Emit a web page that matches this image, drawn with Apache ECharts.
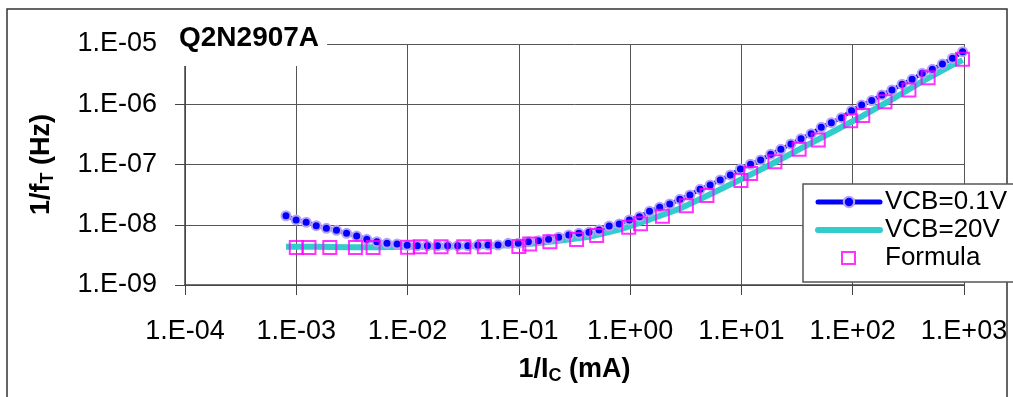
<!DOCTYPE html>
<html>
<head>
<meta charset="utf-8">
<script src="https://cdn.jsdelivr.net/npm/echarts@6/dist/echarts.min.js"></script>
<style>
  html, body { margin: 0; padding: 0; background: #fff; }
  #echarts { width: 1013px; height: 397px; }
</style>
</head>
<body>
<div id="echarts"></div>
<script>
// 1/Ic (mA) sweep of the VCB=0.1V curve
var ics = [8.08e-4, 9.96e-4, 1.227e-3, 1.512e-3, 1.864e-3, 2.297e-3, 2.831e-3, 3.489e-3, 4.30e-3, 5.30e-3,
  6.53e-3, 8.05e-3, 9.92e-3, 1.223e-2, 1.507e-2, 1.857e-2, 2.289e-2, 2.820e-2, 3.475e-2, 4.28e-2,
  5.28e-2, 6.50e-2, 8.02e-2, 9.88e-2, 0.1218, 0.1501, 0.1849, 0.2279, 0.2809, 0.3461,
  0.4266, 0.5257, 0.648, 0.798, 0.984, 1.213, 1.494, 1.842, 2.270, 2.797,
  3.447, 4.248, 5.236, 6.452, 7.952, 9.80, 12.08, 14.88, 18.34, 22.61,
  27.86, 34.33, 42.31, 52.14, 64.27, 79.20, 97.6, 120.3, 148.3, 182.7,
  225.2, 277.5, 342.0, 421.4, 519.4, 640.0, 788.9, 972];
var vcb01 = [1.41e-8, 1.20e-8, 1.10e-8, 9.64e-9, 8.73e-9, 8.09e-9, 7.21e-9, 6.50e-9, 5.74e-9, 5.24e-9,
  4.92e-9, 4.79e-9, 4.55e-9, 4.5e-9, 4.5e-9, 4.5e-9, 4.5e-9, 4.5e-9, 4.5e-9, 4.55e-9,
  4.61e-9, 4.61e-9, 4.92e-9, 4.92e-9, 5.24e-9, 5.44e-9, 5.74e-9, 6.20e-9, 6.76e-9, 7.21e-9,
  7.50e-9, 8.18e-9, 9.53e-9, 1.03e-8, 1.20e-8, 1.36e-8, 1.67e-8, 1.95e-8, 2.21e-8, 2.64e-8,
  3.12e-8, 3.88e-8, 4.57e-8, 5.53e-8, 6.70e-8, 8.42e-8, 1.01e-7, 1.19e-7, 1.48e-7, 1.79e-7,
  2.19e-7, 2.68e-7, 3.24e-7, 4.14e-7, 4.94e-7, 5.98e-7, 7.82e-7, 9.7e-7, 1.15e-6, 1.43e-6,
  1.73e-6, 2.14e-6, 2.59e-6, 3.26e-6, 3.80e-6, 4.66e-6, 5.80e-6, 7.45e-6];

// VCB=20V curve
var ics20 = [8.08e-4, 1.512e-3, 2.831e-3, 5.30e-3, 9.92e-3, 1.857e-2, 3.475e-2, 6.50e-2, 0.1218, 0.2279,
  0.4266, 0.798, 1.494, 2.797, 5.236, 9.80, 18.34, 34.33, 64.27, 120.3, 225.2, 421.4, 788.9, 972];
var vcb20 = [4.3e-9, 4.3e-9, 4.25e-9, 4.25e-9, 4.3e-9, 4.3e-9, 4.4e-9, 4.5e-9, 4.8e-9, 5.4e-9,
  6.3e-9, 8.3e-9, 1.22e-8, 1.85e-8, 3.2e-8, 5.6e-8, 1.0e-7, 1.85e-7, 3.4e-7, 6.3e-7, 1.2e-6, 2.4e-6, 4.5e-6, 5.4e-6];

// Formula
var icsF = [1.0e-3, 1.3e-3, 2.0e-3, 3.4e-3, 4.9e-3, 1.0e-2, 1.3e-2, 2.0e-2, 3.2e-2, 4.9e-2,
  0.1, 0.125, 0.19, 0.33, 0.5, 0.97, 1.24, 1.95, 3.2, 4.9,
  9.9, 12.1, 20, 33, 49, 96, 123, 195, 320, 476, 970];
var formula = [4.2e-9, 4.2e-9, 4.2e-9, 4.2e-9, 4.2e-9, 4.25e-9, 4.3e-9, 4.3e-9, 4.3e-9, 4.3e-9,
  4.35e-9, 4.8e-9, 5.2e-9, 5.7e-9, 6.6e-9, 9.1e-9, 1.04e-8, 1.39e-8, 2.07e-8, 3.05e-8,
  5.4e-8, 7.1e-8, 1.11e-7, 1.79e-7, 2.55e-7, 5.3e-7, 6.5e-7, 1.1e-6, 1.73e-6, 2.76e-6, 5.6e-6];

var FONT = "'Liberation Sans', Arial, sans-serif";

function pairs(xs, ys) {
  return xs.map(function (x, i) { return [x, ys[i]]; });
}
// 1.E-05 style labels
function expLabel(v) {
  var e = Math.round(Math.log10(v));
  var s = Math.abs(e) < 10 ? '0' + Math.abs(e) : '' + Math.abs(e);
  return '1.E' + (e < 0 ? '-' : '+') + s;
}

var myChart = echarts.init(document.getElementById('echarts'));
var option = {
  animation: false,
  backgroundColor: '#fff',
  textStyle: { fontFamily: FONT },
  title: {
    text: 'Q2N2907A',
    left: 173,
    top: 18,
    backgroundColor: '#fff',
    padding: [6, 8, 14, 6],
    textStyle: { fontFamily: FONT, fontSize: 28, fontWeight: 'bold', color: '#000' }
  },
  graphic: [{
    type: 'rect',
    shape: { x: 7, y: 9, width: 1000, height: 400 },
    style: { fill: null, stroke: '#333', lineWidth: 1.5 },
    silent: true
  }],
  legend: {
    orient: 'vertical',
    left: 803,
    top: 184,
    padding: [5, 8, 11, 12],
    itemGap: 2,
    itemWidth: 62,
    itemHeight: 13,
    backgroundColor: '#fff',
    borderColor: '#555',
    borderWidth: 1.5,
    textStyle: { fontFamily: FONT, fontSize: 26, color: '#000', lineHeight: 26 },
    data: [
      {
        name: 'VCB=0.1V',
        lineStyle: { color: '#0000FF', width: 5, cap: 'round' },
        itemStyle: { color: '#0000FF', borderColor: '#B9A2F7', borderWidth: 2 }
      },
      {
        name: 'VCB=20V',
        lineStyle: { color: '#33CCCC', width: 6, cap: 'round' },
        itemStyle: { color: 'rgba(0,0,0,0)', borderWidth: 0 }
      },
      {
        name: 'Formula',
        icon: 'path://M0,0L0,0M62,0L62,0M0,13L0,13M24,0.5L37,0.5L37,12.5L24,12.5Z',
        itemStyle: { color: 'rgba(0,0,0,0)', borderColor: '#FF00FF', borderWidth: 2 }
      }
    ]
  },
  grid: { left: 185, right: 49, top: 44, bottom: 112 },
  xAxis: {
    type: 'log',
    logBase: 10,
    min: 1e-4,
    max: 1e3,
    name: '{a|1/I}{s|C}{a| (mA)}',
    nameLocation: 'middle',
    nameGap: 70,
    nameTextStyle: {
      rich: {
        a: { fontFamily: FONT, fontSize: 27, fontWeight: 'bold', color: '#000', lineHeight: 30 },
        s: { fontFamily: FONT, fontSize: 18, fontWeight: 'bold', color: '#000', lineHeight: 30, verticalAlign: 'bottom' }
      }
    },
    axisLine: { lineStyle: { color: '#444', width: 1.5 } },
    axisTick: { show: true, length: 10, lineStyle: { color: '#444' } },
    axisLabel: { fontFamily: FONT, fontSize: 27, color: '#000', margin: 33, formatter: expLabel },
    splitLine: { show: true, lineStyle: { color: '#555', width: 1 } },
    minorTick: { show: false }
  },
  yAxis: {
    type: 'log',
    logBase: 10,
    min: 1e-9,
    max: 1e-5,
    name: '{a|1/f}{s|T}{a| (Hz)}',
    nameLocation: 'middle',
    nameRotate: 90,
    nameGap: 128,
    nameTextStyle: {
      rich: {
        a: { fontFamily: FONT, fontSize: 27, fontWeight: 'bold', color: '#000', lineHeight: 30 },
        s: { fontFamily: FONT, fontSize: 18, fontWeight: 'bold', color: '#000', lineHeight: 30, verticalAlign: 'bottom' }
      }
    },
    axisLine: { show: true, lineStyle: { color: '#444', width: 1.5 } },
    axisTick: { show: true, length: 10, lineStyle: { color: '#444' } },
    axisLabel: { fontFamily: FONT, fontSize: 27, color: '#000', margin: 28, formatter: expLabel },
    splitLine: { show: true, lineStyle: { color: '#555', width: 1 } }
  },
  series: [
    {
      name: 'VCB=20V',
      type: 'line',
      z: 2,
      data: pairs(ics20, vcb20),
      showSymbol: false,
      symbol: 'none',
      lineStyle: { color: '#33CCCC', width: 6 },
      itemStyle: { color: '#33CCCC' }
    },
    {
      name: 'VCB=0.1V',
      type: 'line',
      z: 3,
      data: pairs(ics, vcb01),
      symbol: 'circle',
      symbolSize: 9,
      lineStyle: { color: '#0000FF', width: 4 },
      itemStyle: { color: '#0000FF', borderColor: '#B9A2F7', borderWidth: 2 }
    },
    {
      name: 'Formula',
      type: 'scatter',
      z: 4,
      data: pairs(icsF, formula),
      symbol: 'rect',
      symbolSize: 13,
      itemStyle: { color: 'rgba(0,0,0,0)', borderColor: '#FF00FF', borderWidth: 2 }
    }
  ]
};
myChart.setOption(option);
</script>
</body>
</html>
